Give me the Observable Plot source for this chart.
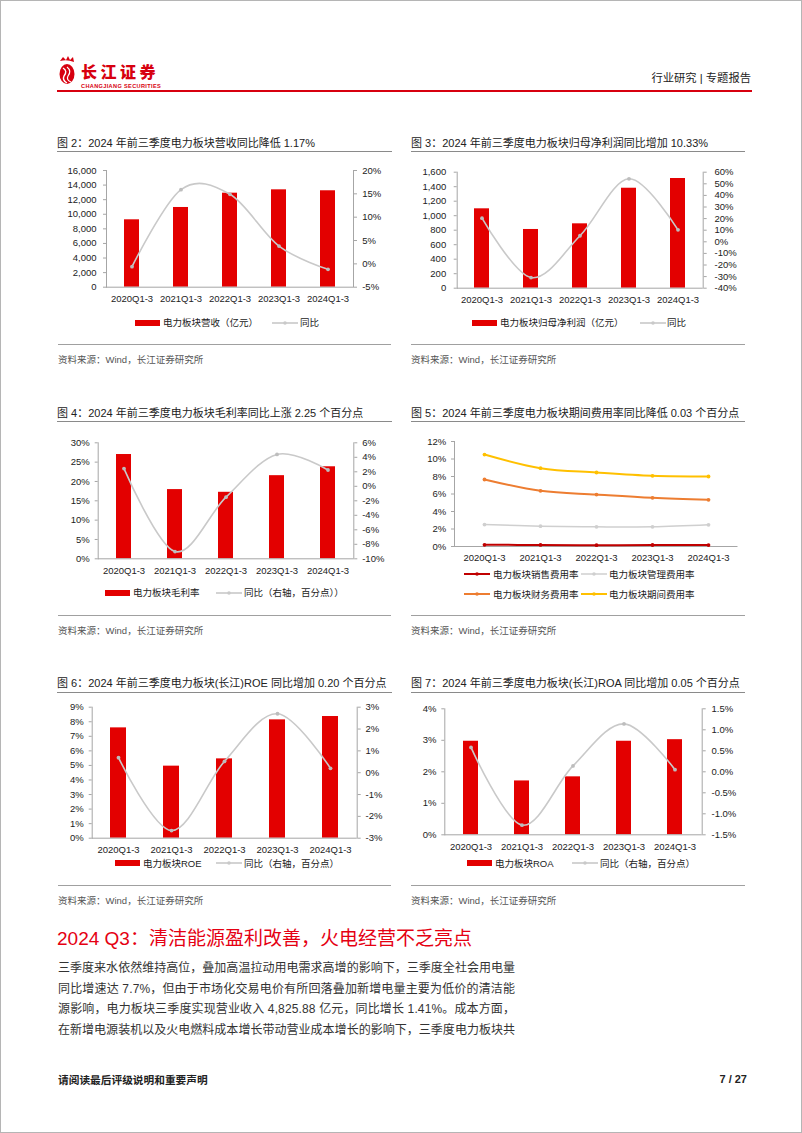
<!DOCTYPE html>
<html><head><meta charset="utf-8">
<script src="https://cdn.jsdelivr.net/npm/d3@7"></script>
<script src="https://cdn.jsdelivr.net/npm/@observablehq/plot@0.6"></script>
<style>
body{margin:0;background:#fff;}
#page{position:relative;width:802px;height:1133px;overflow:hidden;background:#fff;box-shadow:inset 0 0 0 1px #b5b5b5;font-family:"Liberation Sans","Noto Sans CJK SC",sans-serif;color:#222;}
.t{position:absolute;white-space:nowrap;}
.rule{position:absolute;height:0;}
.chart{position:absolute;}
.chart svg{overflow:visible;}
</style></head>
<body><div id="page"></div>
<script>
// ---------- data ----------
const cats = ["2020Q1-3","2021Q1-3","2022Q1-3","2023Q1-3","2024Q1-3"];
const revenue = [9240,10930,12890,13350,13220];
const revenueYoy = [-0.6,15.9,14.9,3.8,-1.17];
const profit = [1095,810,888,1379,1513];
const profitYoy = [20.4,-30.8,5.2,54.3,10.33];
const grossMargin = [26.97,17.9,17.2,21.5,23.8];
const grossMarginChg = [2.44,-9.0,-1.5,4.4,2.25];
const sellRate = [0.19,0.18,0.15,0.17,0.16];
const adminRate = [2.51,2.32,2.25,2.25,2.48];
const finRate = [7.66,6.36,5.94,5.56,5.33];
const periodRate = [10.51,8.95,8.46,8.08,8.0];
const roe = [7.58,4.95,5.45,8.13,8.36];
const roeChg = [0.69,-2.65,0.52,2.70,0.20];
const roa = [2.97,1.71,1.84,2.97,3.02];
const roaChg = [0.58,-1.27,0.14,1.14,0.05];

const revTicks = [0,2000,4000,6000,8000,10000,12000,14000,16000];
const revTickLabels = ["0","2,000","4,000","6,000","8,000","10,000","12,000","14,000","16,000"];
const revYoyTicks = [-5,0,5,10,15,20];
const revYoyLabels = ["-5%","0%","5%","10%","15%","20%"];
const profitTicks = [0,200,400,600,800,1000,1200,1400,1600];
const profitTickLabels = ["0","200","400","600","800","1,000","1,200","1,400","1,600"];
const profitYoyTicks = [-40,-30,-20,-10,0,10,20,30,40,50,60];
const profitYoyLabels = ["-40%","-30%","-20%","-10%","0%","10%","20%","30%","40%","50%","60%"];
const gmTicks = [0,5,10,15,20,25,30];
const gmTickLabels = ["0%","5%","10%","15%","20%","25%","30%"];
const gmChgTicks = [-10,-8,-6,-4,-2,0,2,4,6];
const gmChgLabels = ["-10%","-8%","-6%","-4%","-2%","0%","2%","4%","6%"];
const expTicks = [0,2,4,6,8,10,12];
const expTickLabels = ["0%","2%","4%","6%","8%","10%","12%"];
const roeTicks = [0,1,2,3,4,5,6,7,8,9];
const roeTickLabels = ["0%","1%","2%","3%","4%","5%","6%","7%","8%","9%"];
const roeChgTicks = [-3,-2,-1,0,1,2,3];
const roeChgLabels = ["-3%","-2%","-1%","0%","1%","2%","3%"];
const roaTicks = [0,1,2,3,4];
const roaTickLabels = ["0%","1%","2%","3%","4%"];
const roaChgTicks = [-1.5,-1.0,-0.5,0,0.5,1.0,1.5];
const roaChgLabels = ["-1.5%","-1.0%","-0.5%","0.0%","0.5%","1.0%","1.5%"];

const expSeries = ["电力板块销售费用率","电力板块管理费用率","电力板块财务费用率","电力板块期间费用率"];
const expValues = [sellRate, adminRate, finRate, periodRate];

// ---------- style ----------
const RED = "#E30000", GRAY = "#C9C9C9", GRAYDOT = "#BDBDBD", AXIS = "#A6A6A6", INK = "#222";
const EXPCOL = ["#C00000","#CFCFCF","#ED7D31","#FFC000"];
const FONT = '"Liberation Sans","Noto Sans CJK SC",sans-serif';
const page = document.getElementById("page");

function txt(s, x, cy, size, opt = {}) {
  const d = document.createElement("div");
  d.className = "t";
  d.textContent = s;
  const lh = opt.lh || Math.round(size * 1.4);
  d.style.fontSize = size + "px";
  d.style.lineHeight = lh + "px";
  d.style.top = (cy - lh / 2) + "px";
  if (opt.right != null) d.style.right = (802 - opt.right) + "px"; else d.style.left = x + "px";
  if (opt.color) d.style.color = opt.color;
  if (opt.weight) d.style.fontWeight = opt.weight;
  if (opt.family) d.style.fontFamily = opt.family;
  if (opt.ls) d.style.letterSpacing = opt.ls;
  page.appendChild(d);
  if (opt.fit) {
    const w = d.getBoundingClientRect().width;
    const n = [...s].length;
    d.style.letterSpacing = ((opt.fit - w) / (n - 1)) + "px";
  }
  return d;
}
function rule(x0, x1, y, color, w) {
  const d = document.createElement("div");
  d.className = "rule";
  d.style.left = x0 + "px"; d.style.width = (x1 - x0) + "px";
  d.style.top = (y - w / 2) + "px"; d.style.borderTop = w + "px solid " + color;
  page.appendChild(d);
}
function swatchRect(x, cy, color) {
  const s = `<svg width="25" height="8" style="position:absolute;left:${x}px;top:${cy-4}px"><rect x="0" y="1" width="25" height="6" fill="${color}"/></svg>`;
  page.insertAdjacentHTML("beforeend", s);
}
function swatchLine(x, cy, color, w) {
  const s = `<svg width="26" height="8" style="position:absolute;left:${x}px;top:${cy-4}px"><line x1="0" x2="26" y1="4" y2="4" stroke="${color}" stroke-width="${w}"/><circle cx="13" cy="4" r="1.8" fill="${color}"/></svg>`;
  page.insertAdjacentHTML("beforeend", s);
}
function place(node, left, top) {
  const d = document.createElement("div");
  d.className = "chart";
  d.style.left = left + "px"; d.style.top = top + "px";
  d.appendChild(node);
  page.appendChild(d);
}
function labelOf(ticks, labels) {
  return d => { const i = ticks.findIndex(t => Math.abs(t - d) < 1e-6); return i < 0 ? "" : labels[i]; };
}

function dual(o) {
  const [l0, l1] = o.lDomain, [r0, r1] = o.rDomain;
  const toL = v => l0 + (v - r0) / (r1 - r0) * (l1 - l0);
  const rows = cats.map((c, i) => ({cat: c, v: o.bars[i], r: o.yoy[i]}));
  const rTicksL = o.rTicks.map(toL);
  const p = Plot.plot({
    width: o.w, height: o.h,
    marginLeft: o.x0 - o.left, marginRight: o.left + o.w - o.x1,
    marginTop: o.y0 - o.top, marginBottom: o.top + o.h - o.y1,
    style: {fontFamily: FONT, fontSize: "9.5px", color: INK, background: "transparent"},
    x: {domain: cats, paddingInner: 0.7, paddingOuter: 0.35},
    y: {domain: o.lDomain},
    marks: [
      Plot.barY(rows, {x: "cat", y: "v", fill: RED}),
      Plot.ruleY([l0], {stroke: AXIS, strokeWidth: 1}),
      Plot.frame({anchor: "left", stroke: AXIS}),
      Plot.frame({anchor: "right", stroke: AXIS}),
      Plot.axisY(o.lTicks, {anchor: "left", label: null, tickSize: 3, tickPadding: o.gapL - 3, stroke: AXIS, fill: INK, tickFormat: labelOf(o.lTicks, o.lLabels)}),
      Plot.axisY(rTicksL, {anchor: "right", label: null, tickSize: 3, tickPadding: o.gapR - 3, stroke: AXIS, fill: INK, tickFormat: labelOf(rTicksL, o.rLabels)}),
      Plot.axisX({label: null, tickSize: 0, tickPadding: 8, fill: INK}),
      Plot.line(rows, {x: "cat", y: d => toL(d.r), stroke: GRAY, strokeWidth: 1.6, curve: "cardinal"}),
      Plot.dot(rows, {x: "cat", y: d => toL(d.r), r: 1.9, fill: GRAYDOT})
    ]
  });
  place(p, o.left, o.top);
}

// ---------- header ----------
page.insertAdjacentHTML("beforeend", `<svg width="18" height="30" style="position:absolute;left:58px;top:56px">
<path d="M2 5 L5 1 L8 4 L10 0 L12 4 L15 1 L16 6 Q9 3 2 5 Z" fill="#D7000F"/>
<ellipse cx="9" cy="18" rx="7.5" ry="10" fill="#D7000F"/>
<path d="M5 12 Q10 15 6 20 Q4 24 9 27" stroke="#fff" stroke-width="1.4" fill="none"/>
<path d="M9 11 Q14 15 10 20 Q8 24 13 26" stroke="#fff" stroke-width="1.2" fill="none"/>
</svg>`);
txt("长江证券", 81, 70.5, 16, {color: "#D7000F", weight: 900, family: '"Noto Sans CJK SC",sans-serif', lh: 14, ls: "3.5px"});
txt("CHANGJIANG SECURITIES", 81, 86, 5.6, {color: "#D7000F", weight: 700, lh: 6, ls: "0.35px"});
txt("行业研究 | 专题报告", 0, 78, 11.3, {right: 751, color: "#222"});
rule(57, 752, 91, "#D7000F", 2);

// ---------- titles, rules, sources ----------
const LX0 = 57, LX1 = 392, RX0 = 411, RX1 = 745;
const TS = 11;
txt("图 2：2024 年前三季度电力板块营收同比降低 1.17%", LX0, 143, TS);
txt("图 3：2024 年前三季度电力板块归母净利润同比增加 10.33%", RX0, 143, TS);
txt("图 4：2024 年前三季度电力板块毛利率同比上涨 2.25 个百分点", LX0, 413, TS);
txt("图 5：2024 年前三季度电力板块期间费用率同比降低 0.03 个百分点", RX0, 413, TS);
txt("图 6：2024 年前三季度电力板块(长江)ROE 同比增加 0.20 个百分点", LX0, 683.5, TS);
txt("图 7：2024 年前三季度电力板块(长江)ROA 同比增加 0.05 个百分点", RX0, 683.5, TS);
for (const y of [151, 421.7, 692.7]) { rule(LX0, LX1, y, "#8a8a8a", 1); rule(RX0, RX1, y, "#8a8a8a", 1); }
for (const y of [345, 616, 886]) { rule(58, 391, y, "#a0a0a0", 1.5); rule(RX0, RX1, y, "#a0a0a0", 1.5); }
for (const y of [359, 630, 900.5]) { txt("资料来源：Wind，长江证券研究所", 58, y, 9.5, {color: "#555"}); txt("资料来源：Wind，长江证券研究所", RX0, y, 9.5, {color: "#555"}); }

// ---------- chart 2 ----------
dual({left: 57, top: 158, w: 335, h: 150, x0: 106, x1: 353, y0: 170, y1: 286.7,
  bars: revenue, yoy: revenueYoy, lDomain: [0, 16000], rDomain: [-5, 20],
  lTicks: revTicks, lLabels: revTickLabels, rTicks: revYoyTicks, rLabels: revYoyLabels, gapL: 10, gapR: 8.7});
swatchRect(135, 322.5, RED); txt("电力板块营收（亿元）", 163, 322.5, 9.5);
swatchLine(272, 322.5, GRAY, 1.6); txt("同比", 300, 322.5, 9.5);

// ---------- chart 3 ----------
dual({left: 410, top: 158, w: 335, h: 150, x0: 456.7, x1: 702.7, y0: 171.7, y1: 287.7,
  bars: profit, yoy: profitYoy, lDomain: [0, 1600], rDomain: [-40, 60],
  lTicks: profitTicks, lLabels: profitTickLabels, rTicks: profitYoyTicks, rLabels: profitYoyLabels, gapL: 11, gapR: 11.3});
swatchRect(472, 322.5, RED); txt("电力板块归母净利润（亿元）", 500, 322.5, 9.5);
swatchLine(640, 322.5, GRAY, 1.6); txt("同比", 667, 322.5, 9.5);

// ---------- chart 4 ----------
dual({left: 57, top: 428, w: 335, h: 150, x0: 97.7, x1: 353.3, y0: 442.3, y1: 558.3,
  bars: grossMargin, yoy: grossMarginChg, lDomain: [0, 30], rDomain: [-10, 6],
  lTicks: gmTicks, lLabels: gmTickLabels, rTicks: gmChgTicks, rLabels: gmChgLabels, gapL: 8.4, gapR: 8.4});
swatchRect(105, 592.7, RED); txt("电力板块毛利率", 133, 592.7, 9.5);
swatchLine(216, 592.7, GRAY, 1.6); txt("同比（右轴，百分点））", 244, 592.7, 9.5);

// ---------- chart 5 ----------
{
  const rows = [];
  expSeries.forEach((s, k) => cats.forEach((c, i) => rows.push({s, cat: c, v: expValues[k][i]})));
  const o = {left: 410, top: 428, w: 335, h: 140, x0: 454, x1: 737.5, y0: 441, y1: 546};
  const p = Plot.plot({
    width: o.w, height: o.h,
    marginLeft: o.x0 - o.left, marginRight: o.left + o.w - o.x1,
    marginTop: o.y0 - o.top, marginBottom: o.top + o.h - o.y1,
    style: {fontFamily: FONT, fontSize: "9.5px", color: INK, background: "transparent"},
    x: {domain: cats, paddingInner: 0.7, paddingOuter: 0.35},
    y: {domain: [0, 12]},
    color: {domain: expSeries, range: EXPCOL},
    marks: [
      Plot.ruleY([0], {stroke: AXIS}),
      Plot.frame({anchor: "left", stroke: AXIS}),
      Plot.axisY(expTicks, {anchor: "left", label: null, tickSize: 3, tickPadding: 5.3, stroke: AXIS, fill: INK, tickFormat: labelOf(expTicks, expTickLabels)}),
      Plot.axisX({label: null, tickSize: 0, tickPadding: 8, fill: INK}),
      Plot.line(rows, {x: "cat", y: "v", z: "s", stroke: "s", strokeWidth: d => d.s === expSeries[1] ? 1.5 : 2, curve: "cardinal"}),
      Plot.dot(rows, {x: "cat", y: "v", fill: "s", r: 1.9})
    ]
  });
  place(p, o.left, o.top);
  swatchLine(464, 574, EXPCOL[0], 2); txt(expSeries[0], 493, 574, 9.5);
  swatchLine(581, 574, EXPCOL[1], 1.5); txt(expSeries[1], 609, 574, 9.5);
  swatchLine(464, 594, EXPCOL[2], 2); txt(expSeries[2], 493, 594, 9.5);
  swatchLine(581, 594, EXPCOL[3], 2); txt(expSeries[3], 609, 594, 9.5);
}

// ---------- chart 6 ----------
dual({left: 57, top: 698, w: 335, h: 160, x0: 91.7, x1: 356.7, y0: 706.7, y1: 837.7,
  bars: roe, yoy: roeChg, lDomain: [0, 9], rDomain: [-3, 3],
  lTicks: roeTicks, lLabels: roeTickLabels, rTicks: roeChgTicks, rLabels: roeChgLabels, gapL: 8.4, gapR: 8.3});
swatchRect(115, 863.3, RED); txt("电力板块ROE", 143, 863.3, 9.5);
swatchLine(216, 863.3, GRAY, 1.6); txt("同比（右轴，百分点）", 244, 863.3, 9.5);

// ---------- chart 7 ----------
dual({left: 410, top: 698, w: 335, h: 160, x0: 444.3, x1: 701.7, y0: 708.3, y1: 834.3,
  bars: roa, yoy: roaChg, lDomain: [0, 4], rDomain: [-1.5, 1.5],
  lTicks: roaTicks, lLabels: roaTickLabels, rTicks: roaChgTicks, rLabels: roaChgLabels, gapL: 8.3, gapR: 9.3});
swatchRect(467, 863.3, RED); txt("电力板块ROA", 495, 863.3, 9.5);
swatchLine(572, 863.3, GRAY, 1.6); txt("同比（右轴，百分点）", 600, 863.3, 9.5);

// ---------- text ----------
txt("2024 Q3：清洁能源盈利改善，火电经营不乏亮点", 57, 939, 19, {color: "#E50012", lh: 26});
const para = [
  "三季度来水依然维持高位，叠加高温拉动用电需求高增的影响下，三季度全社会用电量",
  "同比增速达 7.7%，但由于市场化交易电价有所回落叠加新增电量主要为低价的清洁能",
  "源影响，电力板块三季度实现营业收入 4,825.88 亿元，同比增长 1.41%。成本方面，",
  "在新增电源装机以及火电燃料成本增长带动营业成本增长的影响下，三季度电力板块共"
];
para.forEach((s, i) => txt(s, 58, 968 + i * 20.7, 12, {color: "#333", lh: 20, fit: 457}));

// ---------- footer ----------
txt("请阅读最后评级说明和重要声明", 58, 1079, 10.7, {weight: 700, family: '"Noto Sans CJK SC",sans-serif', color: "#222"});
txt("7 / 27", 0, 1079, 11, {right: 747, weight: 700, color: "#222"});
</script></body></html>
